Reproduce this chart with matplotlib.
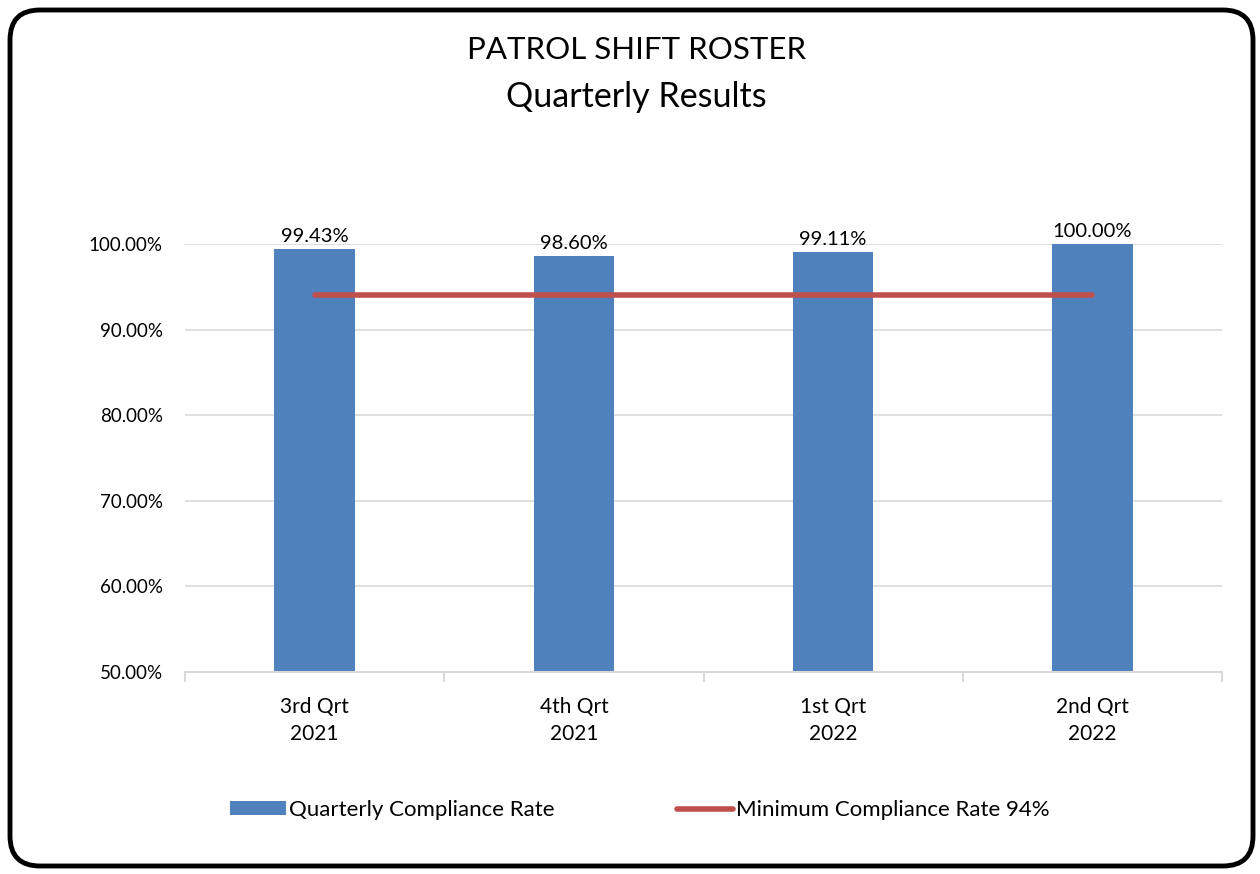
import matplotlib.pyplot as plt
import numpy as np
from matplotlib.patches import FancyBboxPatch

# --- DATA ---
quarters = ["3rd Qrt\n2021", "4th Qrt\n2021", "1st Qrt\n2022", "2nd Qrt\n2022"]
compliance = [99.43, 98.60, 99.11, 100.00]
minimum_rate = [94, 94, 94, 94]
y_ticks = [50, 60, 70, 80, 90, 100]

BLUE = "#4F81BD"
RED = "#C0504D"
GRID = "#D9D9D9"

plt.rcParams['font.family'] = ['Lato', 'DejaVu Sans']

fig = plt.figure(figsize=(12.6, 8.74), dpi=100)

# rounded outer frame, drawn in pixel space
bg = fig.add_axes([0, 0, 1, 1], zorder=0)
bg.set_xlim(0, 1260)
bg.set_ylim(874, 0)
bg.axis("off")
bg.add_patch(FancyBboxPatch((10, 10), 1243, 856, boxstyle="round,pad=0,rounding_size=30",
                            facecolor="white", edgecolor="black", linewidth=3.5))

ax = fig.add_axes([185 / 1260, 1 - 672 / 874, (1222 - 185) / 1260, (672 - 244) / 874], zorder=1)
ax.patch.set_alpha(0)

x = np.arange(len(quarters))
bars = ax.bar(x, compliance, width=0.31, color=BLUE, zorder=2, label="Quarterly Compliance Rate")
line, = ax.plot(x, minimum_rate, color=RED, linewidth=4, solid_capstyle="round", zorder=3,
                label="Minimum Compliance Rate 94%")

for xi, v in zip(x, compliance):
    ax.text(xi, v + 0.45, f"{v:.2f}%", ha="center", va="bottom", fontsize=14.5)

ax.set_xlim(-0.5, len(quarters) - 0.5)
ax.set_ylim(50, 100)
ax.set_yticks(y_ticks)
ax.set_yticklabels([f"{t:.2f}%" for t in y_ticks], fontsize=13.5)
ax.tick_params(axis="y", length=0, pad=16)
ax.yaxis.grid(True, color=GRID, linewidth=1.2, zorder=0)
ax.set_axisbelow(True)

# category boundary ticks and centred labels
ax.set_xticks(np.arange(-0.5, len(quarters)), minor=False)
ax.set_xticklabels([])
ax.set_xticks(x, minor=True)
ax.set_xticklabels(quarters, minor=True, fontsize=15, linespacing=1.45)
ax.tick_params(axis="x", which="major", length=7, color=GRID, width=1.5)
ax.tick_params(axis="x", which="minor", length=0, pad=18)

for side in ["top", "right", "left"]:
    ax.spines[side].set_visible(False)
ax.spines["bottom"].set_color(GRID)
ax.spines["bottom"].set_linewidth(1.5)

fig.text(0.505, 1 - 50 / 874, "PATROL SHIFT ROSTER", ha="center", va="center", fontsize=22.5)
fig.text(0.505, 1 - 97 / 874, "Quarterly Results", ha="center", va="center", fontsize=24.5)

fig.legend([bars, line], ["Quarterly Compliance Rate", "Minimum Compliance Rate 94%"],
           loc="center", bbox_to_anchor=(640 / 1260, 1 - 810 / 874), ncol=2, frameon=False,
           fontsize=16, columnspacing=5.5, handlelength=2.5, handleheight=0.55,
           handletextpad=0.15)

fig.savefig("out.png", dpi=100)
